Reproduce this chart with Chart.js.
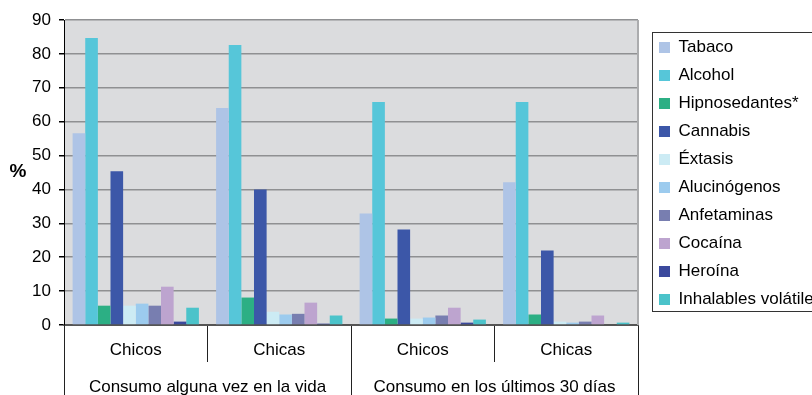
<!DOCTYPE html>
<html>
<head>
<meta charset="utf-8">
<script src="https://cdn.jsdelivr.net/npm/chart.js@4/dist/chart.umd.min.js"></script>
<style>
  body { margin: 0; background: #fff; overflow: hidden; }
  canvas { display: block; }
</style>
</head>
<body>
<canvas id="grafico" width="812" height="395"></canvas>
<script>
// Categorías
const grupos = ["Consumo alguna vez en la vida", "Consumo en los últimos 30 días"];
const sexos = ["Chicos", "Chicas", "Chicos", "Chicas"];

// Porcentajes por sustancia (Chicos/Chicas vida, Chicos/Chicas 30 días)
const tabaco        = [56.6, 64.0, 32.9, 42.1];
const alcohol       = [84.7, 82.6, 65.8, 65.8];
const hipnosedantes = [5.7, 8.1, 1.9, 3.1];
const cannabis      = [45.4, 40.0, 28.2, 22.0];
const extasis       = [5.7, 3.9, 1.9, 1.0];
const alucinogenos  = [6.3, 3.1, 2.2, 0.7];
const anfetaminas   = [5.7, 3.3, 2.8, 1.0];
const cocaina       = [11.3, 6.6, 5.1, 2.8];
const heroina       = [1.0, 0.4, 0.7, 0.0];
const inhalables    = [5.1, 2.8, 1.6, 0.7];

const ticksY = [0, 10, 20, 30, 40, 50, 60, 70, 80, 90];

const series = [
  { label: "Tabaco", data: tabaco, color: "#AEC4E6" },
  { label: "Alcohol", data: alcohol, color: "#56C6D9" },
  { label: "Hipnosedantes*", data: hipnosedantes, color: "#2CAF84" },
  { label: "Cannabis", data: cannabis, color: "#3C57A8" },
  { label: "Éxtasis", data: extasis, color: "#CCEBF4" },
  { label: "Alucinógenos", data: alucinogenos, color: "#9CCBEE" },
  { label: "Anfetaminas", data: anfetaminas, color: "#787EB0" },
  { label: "Cocaína", data: cocaina, color: "#BDA4CF" },
  { label: "Heroína", data: heroina, color: "#3B499D" },
  { label: "Inhalables volátiles", data: inhalables, color: "#4BC3CA" }
];

const fuente = "'Liberation Sans', Arial, sans-serif";
Chart.defaults.color = "#000";
Chart.defaults.font.family = fuente;
Chart.defaults.font.size = 17;

// Fondo gris del área de trazado y borde derecho
const fondo = {
  id: "fondo",
  beforeDraw(chart){
    const a = chart.chartArea, ctx = chart.ctx;
    ctx.save();
    ctx.fillStyle = "#DBDCDE";
    ctx.fillRect(a.left, a.top, a.right - a.left, a.bottom - a.top);
    ctx.restore();
  },
  afterDraw(chart){
    const a = chart.chartArea, ctx = chart.ctx;
    ctx.save();
    ctx.strokeStyle = "#ABACAE";
    ctx.lineWidth = 2;
    ctx.beginPath();
    ctx.moveTo(a.right, a.top);
    ctx.lineTo(a.right, a.bottom);
    ctx.stroke();
    // símbolo del eje Y
    ctx.fillStyle = "#000";
    ctx.font = "bold 19px " + fuente;
    ctx.textAlign = "center";
    ctx.textBaseline = "middle";
    ctx.fillText("%", 18, (a.top + a.bottom) / 2 - 1);
    ctx.restore();
  }
};

// Leyenda desplazada y con marco
const marcoLeyenda = {
  id: "marcoLeyenda",
  afterLayout(chart){
    const lg = chart.legend;
    lg.left = 648; lg.right = chart.width;
    lg.top = 28; lg.bottom = chart.height;
  },
  afterDraw(chart){
    const ctx = chart.ctx;
    ctx.save();
    ctx.strokeStyle = "#333";
    ctx.lineWidth = 1;
    ctx.strokeRect(652.5, 32.5, 200, 279);
    ctx.restore();
  }
};

new Chart(document.getElementById("grafico"), {
  type: "bar",
  data: {
    labels: sexos,
    datasets: series.map(s => ({
      label: s.label,
      data: s.data,
      backgroundColor: s.color,
      borderWidth: 0,
      barPercentage: 1,
      categoryPercentage: 0.88
    }))
  },
  options: {
    responsive: false,
    animation: false,
    layout: { padding: { top: 20, left: 0, right: 0, bottom: 0 } },
    plugins: {
      legend: {
        position: "right",
        align: "start",
        maxWidth: 174,
        labels: { boxWidth: 11, boxHeight: 11, padding: 11, font: { size: 17 }, color: "#000" }
      },
      tooltip: { enabled: false }
    },
    scales: {
      x: {
        type: "category",
        weight: 0,
        offset: true,
        grid: { offset: true, drawOnChartArea: false, tickLength: 37, tickColor: "#222", lineWidth: 1 },
        border: { display: true, color: "#555", width: 2 },
        ticks: { padding: -22, autoSkip: false, maxRotation: 0, font: { size: 17 } },
        afterFit(s){ s.height = 37; }
      },
      x2: {
        type: "category",
        position: "bottom",
        weight: 1,
        labels: grupos,
        offset: true,
        grid: { offset: true, drawOnChartArea: false, tickLength: 33, tickColor: "#222", lineWidth: 1 },
        border: { display: false },
        ticks: { padding: -18, autoSkip: false, maxRotation: 0, font: { size: 17 } },
        afterFit(s){ s.height = 33; }
      },
      y: {
        min: 0,
        max: 90,
        afterBuildTicks(s){ s.ticks = ticksY.map(v => ({ value: v })); },
        grid: {
          color: ctx => ctx.tick && ctx.tick.value === 0 ? "#555" : "#8F9092",
          lineWidth: 1.5,
          tickLength: 5,
          tickColor: "#000"
        },
        border: { display: true, color: "#000", width: 1 },
        ticks: { padding: 8, font: { size: 17 } },
        afterFit(s){ s.width = 64; }
      }
    }
  },
  plugins: [fondo, marcoLeyenda]
});
</script>
</body>
</html>
